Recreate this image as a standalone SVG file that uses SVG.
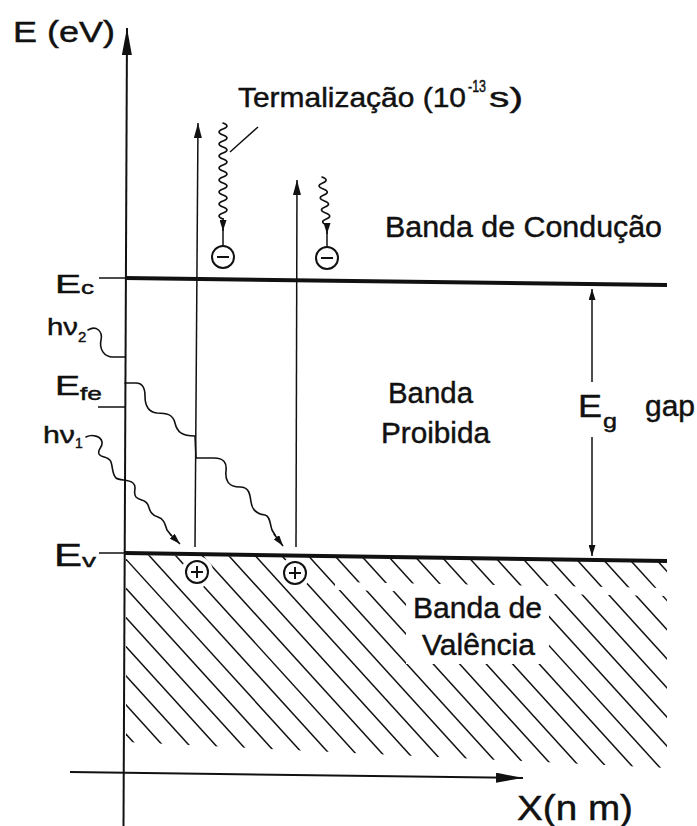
<svg xmlns="http://www.w3.org/2000/svg" width="697" height="826" viewBox="0 0 697 826">
<style>
text{font-family:"Liberation Sans",Arial,Helvetica,sans-serif;fill:#111;stroke:#111;stroke-width:0.45}
.ax{stroke:#111;stroke-width:2;fill:none}
.thin{stroke:#111;stroke-width:1.5;fill:none}
.band{stroke:#111;stroke-width:4;fill:none}
.wave{stroke:#111;stroke-width:1.6;fill:none;stroke-linejoin:round;stroke-linecap:round}
.hatch line{stroke:#111;stroke-width:1.5}
.carrier{fill:#fff;stroke:#111;stroke-width:2}
.sign{stroke:#111;stroke-width:2}
.gapmask{stroke:#fff;stroke-width:8;fill:none}
</style>
<defs>
<marker id="aBig" markerUnits="userSpaceOnUse" markerWidth="27" markerHeight="10" refX="27" refY="5" orient="auto"><path d="M0,0 L27,5 L0,10 z" fill="#111"/></marker>
<marker id="aMed" markerUnits="userSpaceOnUse" markerWidth="15" markerHeight="8" refX="15" refY="4" orient="auto"><path d="M0,0 L15,4 L0,8 z" fill="#111"/></marker>
<marker id="aSm" markerUnits="userSpaceOnUse" markerWidth="11" markerHeight="7" refX="11" refY="3.5" orient="auto"><path d="M0,0 L11,3.5 L0,7 z" fill="#111"/></marker>
<clipPath id="hclip"><polygon points="126,555 667,561 667,768 126,742"/></clipPath>
</defs>
<rect width="697" height="826" fill="#fff"/>

<g id="valence-hatch" class="hatch" clip-path="url(#hclip)">
<line x1="-50.5" y1="540" x2="167.7" y2="780"/>
<line x1="-24" y1="540" x2="194.2" y2="780"/>
<line x1="2.5" y1="540" x2="220.7" y2="780"/>
<line x1="29" y1="540" x2="247.2" y2="780"/>
<line x1="55.5" y1="540" x2="273.7" y2="780"/>
<line x1="82" y1="540" x2="300.2" y2="780"/>
<line x1="108.5" y1="540" x2="326.7" y2="780"/>
<line x1="135" y1="540" x2="353.2" y2="780"/>
<line x1="161.5" y1="540" x2="379.7" y2="780"/>
<line x1="188" y1="540" x2="406.2" y2="780"/>
<line x1="214.5" y1="540" x2="432.7" y2="780"/>
<line x1="241" y1="540" x2="459.2" y2="780"/>
<line x1="267.5" y1="540" x2="485.7" y2="780"/>
<line x1="294" y1="540" x2="512.2" y2="780"/>
<line x1="320.5" y1="540" x2="538.7" y2="780"/>
<line x1="347" y1="540" x2="565.2" y2="780"/>
<line x1="373.5" y1="540" x2="591.7" y2="780"/>
<line x1="400" y1="540" x2="618.2" y2="780"/>
<line x1="426.5" y1="540" x2="644.7" y2="780"/>
<line x1="453" y1="540" x2="671.2" y2="780"/>
<line x1="479.5" y1="540" x2="697.7" y2="780"/>
<line x1="506" y1="540" x2="724.2" y2="780"/>
<line x1="532.5" y1="540" x2="750.7" y2="780"/>
<line x1="559" y1="540" x2="777.2" y2="780"/>
<line x1="585.5" y1="540" x2="803.7" y2="780"/>
<line x1="612" y1="540" x2="830.2" y2="780"/>
<line x1="638.5" y1="540" x2="856.7" y2="780"/>
<line x1="665" y1="540" x2="883.2" y2="780"/>
</g>
<rect x="406" y="590" width="143" height="74" fill="#fff"/>
<line class="gapmask" x1="335" y1="586" x2="667" y2="592"/>
<circle cx="197" cy="572" r="16" fill="#fff"/>
<circle cx="295" cy="573" r="16" fill="#fff"/>

<g id="axes">
<line class="ax" x1="123.5" y1="826" x2="127" y2="28" marker-end="url(#aBig)"/>
<line class="ax" x1="70" y1="772" x2="523" y2="778" marker-end="url(#aBig)"/>
</g>

<g id="band-edges">
<line class="thin" x1="99" y1="278" x2="125" y2="278"/>
<line class="band" x1="125" y1="278" x2="667" y2="285"/>
<line class="thin" x1="98" y1="407" x2="125" y2="407"/>
<line class="thin" x1="99" y1="553" x2="125" y2="553"/>
<line class="band" x1="125" y1="553" x2="667" y2="561"/>
</g>

<g id="connectors">
<line class="thin" x1="195" y1="547" x2="198" y2="123" marker-end="url(#aMed)"/>
<line class="thin" x1="296" y1="547" x2="297" y2="180" marker-end="url(#aMed)"/>
<line class="thin" x1="592" y1="382" x2="592" y2="289" marker-end="url(#aSm)"/>
<line class="thin" x1="592" y1="437" x2="592" y2="556" marker-end="url(#aSm)"/>
<line class="thin" x1="230" y1="152" x2="258" y2="127"/>
<path class="wave" d="M223,123 q8,3 0,6 t0,6 t0,6 t0,6 t0,6 t0,6 t0,6 t0,6 t0,6 t0,6 t0,6 t0,6 t0,6 t0,6 t0,6 t0,6"/>
<line class="thin" x1="223" y1="218" x2="223" y2="231" marker-end="url(#aSm)"/>
<line class="thin" x1="223" y1="229" x2="223" y2="246"/>
<path class="wave" d="M322,177 q8,3 0.6,6 t0.6,6 t0.6,6 t0.6,6 t0.6,6 t0.6,6 t0.6,6 t0.6,6"/>
<line class="thin" x1="327" y1="224" x2="327" y2="234" marker-end="url(#aSm)"/>
<line class="thin" x1="327" y1="232" x2="327" y2="247"/>
<path class="wave" d="M88,330 C96,325 103,331 101,340 C99,349 104,357 113,357 L125,357"/>
<path class="wave" d="M125,383 L136,383 C143,383 145,388 145,396 C145,405 148,412 157,413 C166,413 173,414 175,423 C177,432 182,436 195,436 L196,458 L214,458 C224,458 227,463 226,471 C225,480 228,487 240,487 C249,487 250,494 251,502 C252,510 257,514 265,515 C270,516 270,524 272,530 L275,535"/>
<line class="thin" x1="274" y1="534" x2="283" y2="546" marker-end="url(#aSm)"/>
<path class="wave" d="M86,437 C92,434 101,436 102,442 C103,448 97,449 99,454 C101,458 109,456 111,462 C113,468 112,474 116,478 C120,481 128,479 133,483 C138,487 132,492 136,497 C140,501 146,499 148,505 C150,511 151,515 158,517 C164,519 165,524 167,530 L171,535"/>
<line class="thin" x1="170" y1="534" x2="180" y2="544" marker-end="url(#aSm)"/>
</g>

<g id="electron1"><circle class="carrier" cx="223" cy="257" r="11"/><line class="sign" x1="217" y1="257" x2="229" y2="257"/></g>
<g id="electron2"><circle class="carrier" cx="327" cy="258" r="11"/><line class="sign" x1="321" y1="258" x2="333" y2="258"/></g>
<g id="hole1"><circle class="carrier" cx="197" cy="572" r="11"/><line class="sign" x1="191" y1="572" x2="203" y2="572"/><line class="sign" x1="197" y1="566" x2="197" y2="578"/></g>
<g id="hole2"><circle class="carrier" cx="295" cy="573" r="11"/><line class="sign" x1="289" y1="573" x2="301" y2="573"/><line class="sign" x1="295" y1="567" x2="295" y2="579"/></g>

<g id="labels">
<text x="13" y="42" font-size="29" textLength="102" lengthAdjust="spacingAndGlyphs">E (eV)</text>
<text x="238" y="107" font-size="28" textLength="228" lengthAdjust="spacingAndGlyphs">Termalização (10</text>
<text x="468" y="92" font-size="16" textLength="18" lengthAdjust="spacingAndGlyphs">-13</text>
<text x="489" y="107" font-size="28" textLength="34" lengthAdjust="spacingAndGlyphs">s)</text>
<text x="385" y="237" font-size="30" textLength="277" lengthAdjust="spacingAndGlyphs">Banda de Condução</text>
<text x="55" y="293" font-size="26" textLength="26" lengthAdjust="spacingAndGlyphs">E</text>
<text x="81" y="294" font-size="19" textLength="13" lengthAdjust="spacingAndGlyphs">c</text>
<text x="47" y="335" font-size="24" textLength="31" lengthAdjust="spacingAndGlyphs">hν</text>
<text x="78" y="342" font-size="15">2</text>
<text x="55" y="395" font-size="28" textLength="25" lengthAdjust="spacingAndGlyphs">E</text>
<text x="80" y="400" font-size="19" textLength="22" lengthAdjust="spacingAndGlyphs">fe</text>
<text x="43" y="443" font-size="24" textLength="32" lengthAdjust="spacingAndGlyphs">hν</text>
<text x="75" y="448" font-size="14">1</text>
<text x="54" y="566" font-size="32" textLength="28" lengthAdjust="spacingAndGlyphs">E</text>
<text x="82" y="567" font-size="19" textLength="14" lengthAdjust="spacingAndGlyphs">v</text>
<text x="388" y="403" font-size="30" textLength="85" lengthAdjust="spacingAndGlyphs">Banda</text>
<text x="381" y="443" font-size="30" textLength="109" lengthAdjust="spacingAndGlyphs">Proibida</text>
<text x="578" y="417" font-size="31" textLength="24" lengthAdjust="spacingAndGlyphs">E</text>
<text x="603" y="428" font-size="21" textLength="14" lengthAdjust="spacingAndGlyphs">g</text>
<text x="645" y="416" font-size="30" textLength="50" lengthAdjust="spacingAndGlyphs">gap</text>
<text x="413" y="618" font-size="30" textLength="129" lengthAdjust="spacingAndGlyphs">Banda de</text>
<text x="422" y="655" font-size="30" textLength="113" lengthAdjust="spacingAndGlyphs">Valência</text>
<text x="517" y="820" font-size="35" textLength="116" lengthAdjust="spacingAndGlyphs">X(n m)</text>
</g>
</svg>
